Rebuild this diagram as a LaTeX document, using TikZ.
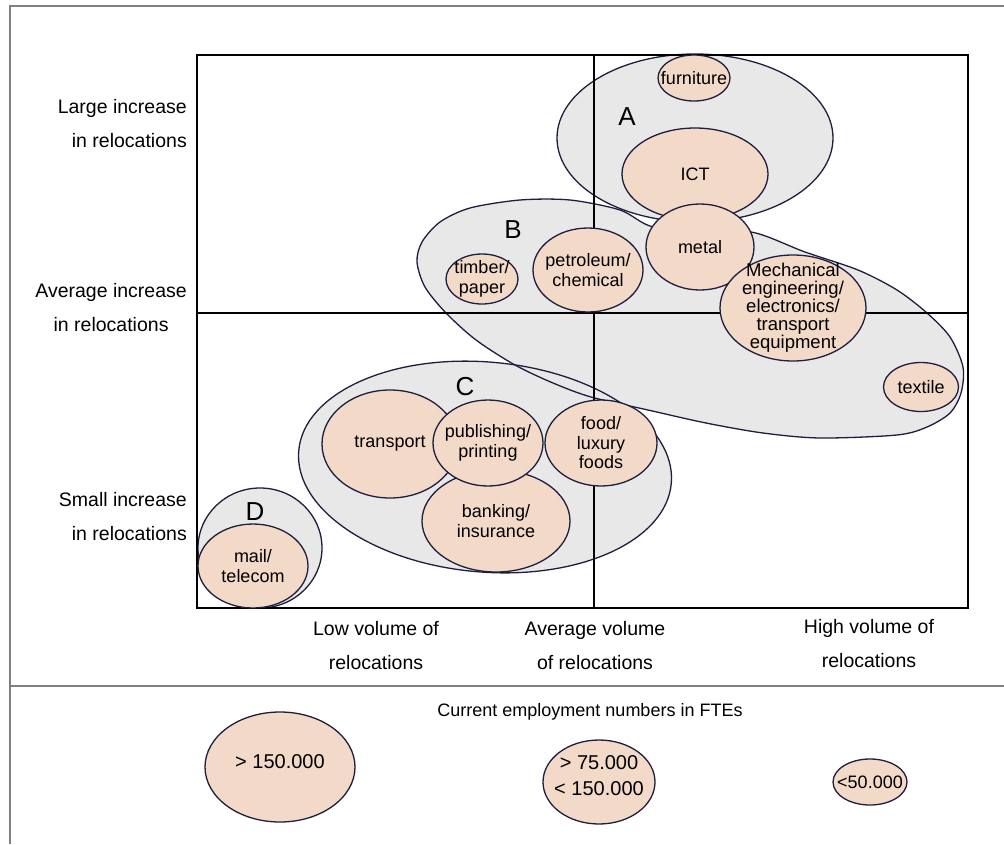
\documentclass[tikz,border=0pt]{standalone}
\usepackage{fontspec}
\setmainfont{Liberation Sans}
\usetikzlibrary{shapes.geometric}

\definecolor{peach}{RGB}{242,217,200}
\definecolor{grpgray}{RGB}{232,232,232}
\definecolor{edge}{RGB}{30,30,62}

\newcommand*{\xmin}{197}
\newcommand*{\xmax}{968}
\newcommand*{\ymin}{55}
\newcommand*{\ymax}{608}
\newcommand*{\xmid}{594}
\newcommand*{\ymid}{313}
\newcommand*{\grpB}{plot[smooth cycle] coordinates {(417,262) (422,242) (440,222) (470,208) (520,200) (570,200) (620,210) (650,226) (700,236) (751,232) (805,252) (858,270) (897,290) (927,313) (950,337) (963,367) (961,393) (950,413) (927,427) (897,435) (820,438) (763,433) (706,423) (648,410) (591,397) (553,383) (515,365) (476,340) (446,313) (425,287)}}

\begin{document}
\begin{tikzpicture}
[
	x=1pt, y=-1pt,
	frameline/.style={draw=gray, line width=2.5pt},
	grpline/.style={draw=edge, line width=1.3pt},
	bub/.style 2 args={ellipse, draw=edge, fill=peach, line width=1.3pt, inner sep=0pt, minimum width=#1, minimum height=#2},
	txt/.style={align=center, inner sep=0pt, font=\fontsize{18}{19.5}\selectfont},
	lgtxt/.style={align=center, inner sep=0pt, font=\fontsize{20}{26}\selectfont},
	axlbl/.style={inner sep=0pt, font=\fontsize{19.5}{34}\selectfont},
	grplbl/.style={inner sep=0pt, font=\fontsize{26}{26}\selectfont}
]
	\useasboundingbox (0,0) rectangle (1004,844);

	% outer frame
	\draw[frameline] (10,844) -- (10,6) -- (1004,6);
	\draw[frameline] (10,686) -- (1004,686);

	% groups, fill
	\fill[grpgray] (695,138) ellipse [x radius=138, y radius=84];
	\fill[grpgray] \grpB;
	\fill[grpgray, rotate around={-5:(485,467)}] (485,467) ellipse [x radius=187, y radius=105];
	\fill[grpgray] (260,548) ellipse [x radius=62, y radius=60];

	% groups, outline
	\draw[grpline] (695,138) ellipse [x radius=138, y radius=84];
	\draw[grpline] \grpB;
	\draw[grpline, rotate around={-5:(485,467)}] (485,467) ellipse [x radius=187, y radius=105];
	\draw[grpline] (260,548) ellipse [x radius=62, y radius=60];

	% box and mid lines
	\draw[line width=1.3pt] (\xmin,\ymin) rectangle (\xmax,\ymax);
	\draw[line width=1.3pt] (\xmin,\ymid) -- (\xmax,\ymid);
	\draw[line width=1.3pt] (\xmid,\ymin) -- (\xmid,\ymax);

	% group A
	\node[bub={72}{46}, label={[txt]center:furniture}] (furn) at (694,78) {};
	\node[bub={146}{92}, label={[txt]center:ICT}] (ict) at (695,174) {};
	\node[bub={108}{86}, label={[txt]center:metal}] (metal) at (700,247) {};

	% group B
	\node[bub={72}{50}, label={[txt]center:{timber/\\paper}}] (timber) at (482,279) {};
	\node[bub={110}{84}, label={[txt]center:{petroleum/\\chemical}}] (petro) at (588,270) {};
	\node[bub={146}{106}, label={[txt, font=\fontsize{18.5}{18}\selectfont]center:{Mechanical\\engineering/\\electronics/\\transport\\equipment}}] (mech) at (793,308) {};
	\node[bub={75}{49}, label={[txt]center:textile}] (textile) at (921,387) {};

	% group C
	\node[bub={136}{108}, label={[txt]center:transport}] (transp) at (390,444) {};
	\node[bub={148}{102}, label={[txt]center:{banking/\\insurance}}] (bank) at (496,521) {};
	\node[bub={110}{86}, label={[txt]center:{publishing/\\printing}}] (publ) at (488,443) {};
	\node[bub={112}{86}, label={[txt]center:{food/\\luxury\\foods}}] (food) at (601,443) {};

	% group D
	\node[bub={110}{84}, label={[txt]center:{mail/\\telecom}}] (mail) at (253,566) {};

	% group letters
	\node[grplbl] (lblA) at (627,117) {A};
	\node[grplbl] (lblB) at (513,230) {B};
	\node[grplbl] (lblC) at (465,387) {C};
	\node[grplbl] (lblD) at (255,512) {D};

	% axis labels
	\node[axlbl, align=right, anchor=east] (lyhigh) at (187,124) {Large increase\\in relocations};
	\node[axlbl, align=center, anchor=east] (lymid) at (187,308) {Average increase\\in relocations};
	\node[axlbl, align=right, anchor=east] (lylow) at (187,517) {Small increase\\in relocations};
	\node[axlbl, align=center] (lxlow) at (376,646) {Low volume of\\relocations};
	\node[axlbl, align=center] (lxmid) at (595,646) {Average volume\\of relocations};
	\node[axlbl, align=center] (lxhigh) at (869,644) {High volume of\\relocations};

	% legend
	\node[inner sep=0pt, font=\fontsize{18}{18}\selectfont] (lgtitle) at (590,712) {Current employment numbers in FTEs};
	\node[bub={150}{110}, label={[lgtxt, yshift=5pt]center:{> 150.000}}] (lgbig) at (280,767) {};
	\node[bub={112}{84}, label={[lgtxt, yshift=6pt]center:{> 75.000\\< 150.000}}] (lgmid) at (599,782) {};
	\node[bub={74}{46}, label={[lgtxt, font=\fontsize{18}{18}\selectfont]center:{<50.000}}] (lgsmall) at (870,782) {};

\end{tikzpicture}
\end{document}
